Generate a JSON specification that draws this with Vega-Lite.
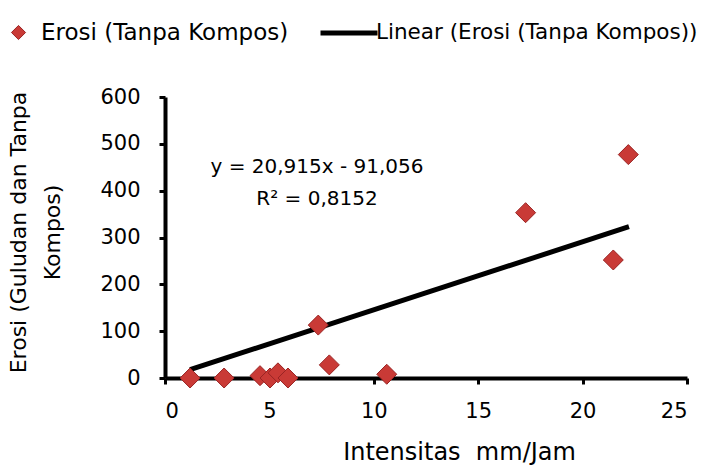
{
  "$schema": "https://vega.github.io/schema/vega-lite/v6.json",
  "width": 522,
  "height": 281,
  "autosize": {"type": "none"},
  "padding": {"left": 165, "top": 97, "right": 18, "bottom": 94},
  "background": "white",
  "config": {
    "view": {"stroke": null},
    "font": "DejaVu Sans",
    "axis": {
      "grid": false,
      "domainColor": "black",
      "domainWidth": 4,
      "tickColor": "black",
      "tickWidth": 3,
      "tickSize": 6,
      "labelFont": "DejaVu Sans",
      "labelFontSize": 21,
      "labelColor": "black",
      "titleFont": "DejaVu Sans",
      "titleFontSize": 22,
      "titleFontWeight": "normal",
      "titleColor": "black"
    },
    "legend": {
      "labelFont": "DejaVu Sans",
      "labelColor": "black",
      "labelLimit": 500
    }
  },
  "datasets": {
    "points": [
      {"x": 1.2, "y": 0},
      {"x": 2.83, "y": 0},
      {"x": 4.55, "y": 5},
      {"x": 5.03, "y": 0},
      {"x": 5.41, "y": 11},
      {"x": 5.89, "y": 0},
      {"x": 7.34, "y": 113},
      {"x": 7.87, "y": 28},
      {"x": 10.62, "y": 8},
      {"x": 17.27, "y": 353},
      {"x": 21.47, "y": 252},
      {"x": 22.19, "y": 477}
    ],
    "trend": [
      {"x": 1.2, "y": 17.7},
      {"x": 22.22, "y": 323}
    ],
    "labels": [
      {"x": 7.28, "y": 450, "label": "y = 20,915x - 91,056"},
      {"x": 7.28, "y": 382, "label": "R² = 0,8152"}
    ]
  },
  "layer": [
    {
      "data": {"name": "trend"},
      "mark": {"type": "line", "strokeWidth": 5, "strokeCap": "butt"},
      "encoding": {
        "x": {
          "field": "x", "type": "quantitative",
          "scale": {"domain": [0, 25], "nice": false, "zero": false},
          "axis": {
            "values": [0, 5, 10, 15, 20, 25],
            "title": "Intensitas\u00a0 mm/Jam",
            "titleFontSize": 24,
            "labelPadding": 16,
            "titleX": 294,
            "titleY": 74,
            "titleBaseline": "middle",
            "titleAlign": "center"
          }
        },
        "y": {
          "field": "y", "type": "quantitative",
          "scale": {"domain": [0, 600], "nice": false},
          "axis": {
            "values": [0, 100, 200, 300, 400, 500, 600],
            "title": ["Erosi (Guludan dan Tanpa", "Kompos)"],
            "labelPadding": 19,
            "titleX": -157,
            "titleY": 135,
            "titleAngle": -90,
            "titleAlign": "center",
            "titleBaseline": "top",
            "titleLineHeight": 34
          }
        },
        "stroke": {
          "datum": "Linear (Erosi (Tanpa Kompos))",
          "scale": {"range": ["black"]},
          "legend": {
            "title": null,
            "orient": "none",
            "legendX": 153,
            "legendY": -95,
            "symbolType": "stroke",
            "symbolSize": 3249,
            "symbolStrokeWidth": 5,
            "symbolStrokeColor": "black",
            "labelFontSize": 21.5,
            "labelOffset": -4
          }
        }
      }
    },
    {
      "data": {"name": "points"},
      "mark": {"type": "point", "shape": "diamond", "filled": true, "size": 400, "opacity": 1, "stroke": "#9a2424", "strokeWidth": 1},
      "encoding": {
        "x": {"field": "x", "type": "quantitative"},
        "y": {"field": "y", "type": "quantitative"},
        "fill": {
          "datum": "Erosi (Tanpa Kompos)",
          "scale": {"range": ["#c93a36"]},
          "legend": {
            "title": null,
            "orient": "none",
            "legendX": -158,
            "legendY": -76,
            "symbolType": "diamond",
            "symbolSize": 200,
            "symbolOpacity": 1,
            "symbolStrokeColor": "#9a2424",
            "symbolStrokeWidth": 1,
            "labelFontSize": 23,
            "labelOffset": 11
          }
        }
      }
    },
    {
      "data": {"name": "labels"},
      "mark": {"type": "text", "fontSize": 20, "font": "DejaVu Sans", "color": "black", "align": "center", "baseline": "middle"},
      "encoding": {
        "x": {"field": "x", "type": "quantitative"},
        "y": {"field": "y", "type": "quantitative"},
        "text": {"field": "label"}
      }
    }
  ],
  "resolve": {"scale": {"fill": "independent", "stroke": "independent"}}
}
